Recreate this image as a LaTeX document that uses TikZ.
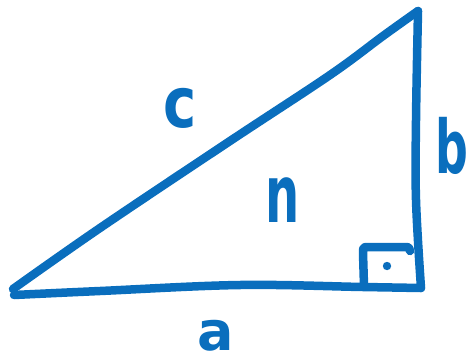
\documentclass[tikz,border=0pt]{standalone}
\usepackage{fontspec}
\setmainfont{DejaVu Sans}
\definecolor{pen}{HTML}{0A6EBD}
\tikzset{
  stroke/.style={draw=pen, line width=8.5pt, line cap=round, line join=round},
  lbl/.style={text=pen, inner sep=0pt}
}
\newcommand{\hw}[3]{\scalebox{#2}[1]{\fontsize{#1}{#1}\selectfont\bfseries #3}}
\begin{document}
\begin{tikzpicture}[x=1pt,y=-1pt]
\useasboundingbox (0,0) rectangle (468,362);
% hypotenuse c
\draw[stroke] plot[smooth, tension=0.6] coordinates {(13,289) (100,228) (230,141) (330,75) (383,36) (418,11)};
% side a
\draw[stroke] plot[smooth, tension=0.6] coordinates {(14,295) (100,291) (240,285) (363,287) (421,288)};
% side b
\draw[stroke] plot[smooth, tension=0.6] coordinates {(418,11) (416,120) (416,200) (421,288)};
% right angle mark
\draw[stroke] (364,286) -- (363,253) .. controls (363,247) .. (369,247) -- (404,247) .. controls (409,247) .. (410,251);
\fill[pen] (387,266) circle (4.2pt);
% labels
\node[lbl] (lc) at (180,108) {\hw{70}{0.8}{c}};
\node[lbl] (lb) at (452,146) {\hw{74}{0.62}{b}};
\node[lbl] (ln) at (283,200) {\hw{80}{0.6}{n}};
\node[lbl] (la) at (216,336) {\hw{54}{1.0}{a}};
\end{tikzpicture}
\end{document}
